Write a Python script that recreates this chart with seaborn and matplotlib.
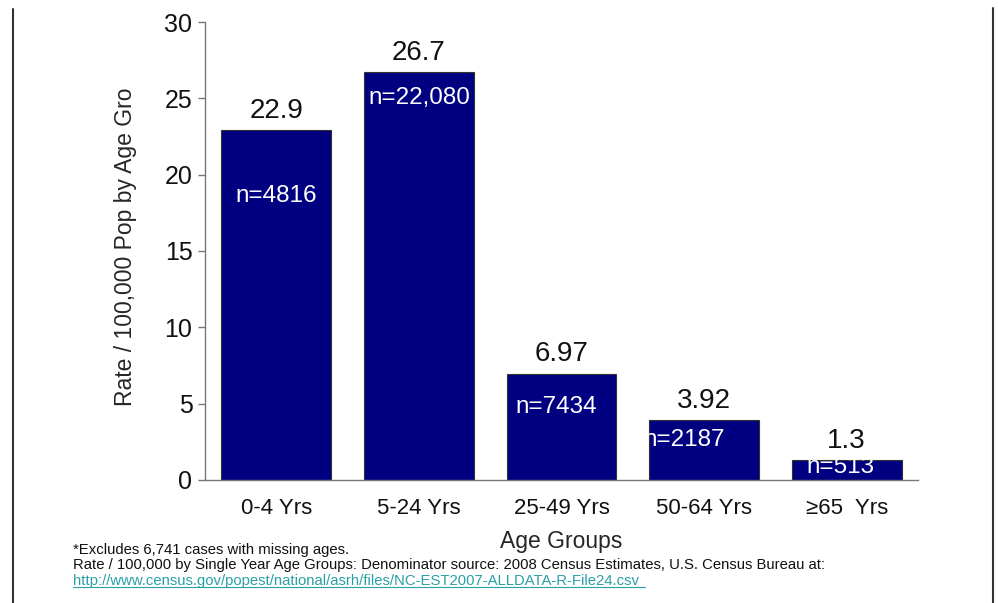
import seaborn as sns
import matplotlib.pyplot as plt
import pandas as pd
from matplotlib.lines import Line2D

# data
age_groups = ['0-4 Yrs', '5-24 Yrs', '25-49 Yrs', '50-64 Yrs', '\u226565  Yrs']
rates = [22.9, 26.7, 6.97, 3.92, 1.3]
rate_labels = ['22.9', '26.7', '6.97', '3.92', '1.3']
n_labels = ['n=4816', 'n=22,080', 'n=7434', 'n=2187', 'n=513']

# where the n= labels sit (x offset from bar centre, y in data units)
n_dx = [0.0, 0.0, -0.04, -0.14, -0.04]
n_y = [18.6, 25.0, 4.8, 2.6, 0.85]

sns.set_style('white')
plt.rcParams['font.family'] = ['Liberation Sans', 'DejaVu Sans']

df = pd.DataFrame({'age': age_groups, 'rate': rates})

fig = plt.figure(figsize=(9.98, 6.03), dpi=100)
ax = fig.add_axes([0.2054, 0.204, 0.7144, 0.7595])
sns.barplot(data=df, x='age', y='rate', color='#000080', saturation=1,
            width=0.77, edgecolor='#333333', linewidth=0.8, ax=ax)

ax.set_xlim(-0.5, 4.5)
ax.set_ylim(0, 30)
ax.set_yticks([0, 5, 10, 15, 20, 25, 30])
ax.set_xticks([-0.5, 0.5, 1.5, 2.5, 3.5, 4.5], minor=True)
ax.tick_params(axis='x', which='major', length=0, labelsize=16, pad=13, colors='#111111')
ax.tick_params(axis='x', which='minor', length=5, width=1, color='#777777', direction='out')
ax.tick_params(axis='y', length=5, width=1, color='#777777', labelsize=18, pad=4,
               labelcolor='#111111', left=True, direction='out')
for s in ['top', 'right']:
    ax.spines[s].set_visible(False)
for s in ['left', 'bottom']:
    ax.spines[s].set_color('#777777')
    ax.spines[s].set_linewidth(1)

ax.set_xlabel('Age Groups', fontsize=16.5, labelpad=8)
ax.set_ylabel('Rate / 100,000 Pop by Age Gro', fontsize=16.5)
ax.yaxis.set_label_coords(-0.096, 0.51)

for i, (v, lab) in enumerate(zip(rates, rate_labels)):
    ax.text(i, v + 0.4, lab, ha='center', va='bottom', fontsize=20, color='#111111')
for i, lab in enumerate(n_labels):
    ax.text(i + n_dx[i], n_y[i], lab, ha='center', va='center', fontsize=17.5, color='white')

fig.text(0.073, 0.082, '*Excludes 6,741 cases with missing ages.', fontsize=10.7, color='#111111')
fig.text(0.073, 0.056, 'Rate / 100,000 by Single Year Age Groups: Denominator source: 2008 Census Estimates, U.S. Census Bureau at:',
         fontsize=10.7, color='#111111')
fig.text(0.073, 0.030, 'http://www.census.gov/popest/national/asrh/files/NC-EST2007-ALLDATA-R-File24.csv',
         fontsize=10.7, color='#2aa0a8')
fig.add_artist(Line2D([0.073, 0.646], [0.026, 0.026], color='#2aa0a8', linewidth=0.8))

# frame lines left and right
fig.add_artist(Line2D([0.0135, 0.0135], [0.0, 0.985], color='#333333', linewidth=1.5))
fig.add_artist(Line2D([0.9945, 0.9945], [0.0, 0.987], color='#333333', linewidth=1.5))

plt.savefig('out.png', dpi=100)
